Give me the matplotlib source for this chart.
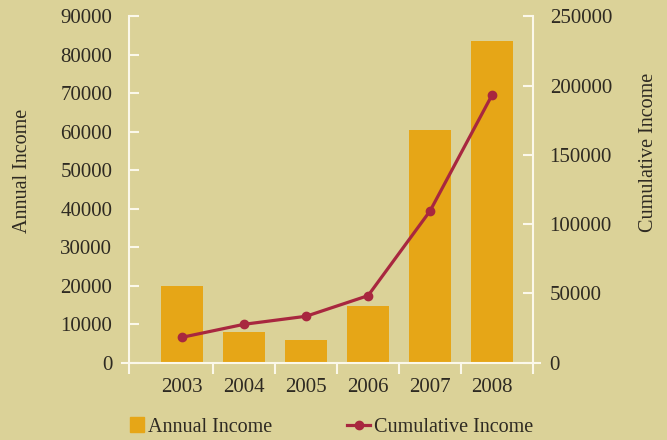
import matplotlib
matplotlib.use("Agg")
import matplotlib.pyplot as plt
from matplotlib.patches import Rectangle
from matplotlib.legend_handler import HandlerPatch

years = ["2003", "2004", "2005", "2006", "2007", "2008"]
annual_income = [20000, 8000, 5900, 14700, 60500, 83600]
cumulative_income = [18200, 27600, 33400, 48300, 109500, 193300]
left_ticks = [0, 10000, 20000, 30000, 40000, 50000, 60000, 70000, 80000, 90000]
right_ticks = [0, 50000, 100000, 150000, 200000, 250000]

BG = "#dbd298"
BAR = "#e6a617"
LINE = "#a8273f"
TXT = "#2e2a22"
AX = "#fbf8ea"

plt.rcParams["font.family"] = ["Liberation Serif", "DejaVu Serif"]
fs = 14.5
tfs = 15

fig = plt.figure(figsize=(6.67, 4.40), dpi=100, facecolor=BG)
ax = fig.add_axes([129 / 667, (440 - 362.5) / 440, 404 / 667, 346 / 440])
ax.set_facecolor(BG)
ax2 = ax.twinx()

x = list(range(len(years)))
ax.bar(x, annual_income, width=42 / 62, color=BAR, zorder=2, label="Annual Income")
ln, = ax2.plot(x, cumulative_income, color=LINE, lw=2.3, marker="o", ms=6,
               zorder=3, label="Cumulative Income")

ax.set_xlim(-0.855, 5.66)
ax.set_ylim(0, 90000)
ax2.set_ylim(0, 250000)

for a in (ax, ax2):
    for s in a.spines.values():
        s.set_visible(False)
ax.spines["left"].set_visible(True)
ax.spines["left"].set_color(AX)
ax.spines["left"].set_linewidth(1.5)
ax2.spines["right"].set_visible(True)
ax2.spines["right"].set_color(AX)
ax2.spines["right"].set_linewidth(1.5)
ax.spines["bottom"].set_visible(True)
ax.spines["bottom"].set_color(AX)
ax.spines["bottom"].set_linewidth(1.5)
ax.spines["bottom"].set_bounds(-0.855 - 7 / 62, 5.66 + 7 / 62)

ax.set_yticks(left_ticks)
ax.set_yticklabels([str(v) for v in left_ticks])
ax.tick_params(axis="y", direction="in", length=7, width=1.5, color=AX,
               labelsize=tfs, labelcolor=TXT, pad=12)
ax2.set_yticks(right_ticks)
ax2.set_yticklabels([str(v) for v in right_ticks])
ax2.tick_params(axis="y", direction="in", length=7, width=1.5, color=AX,
                labelsize=tfs, labelcolor=TXT, pad=12)

ax.set_xticks([-0.855, 0.5, 1.5, 2.5, 3.5, 4.5, 5.66])
ax.set_xticklabels([])
ax.tick_params(axis="x", which="major", direction="out", length=8, width=1.5, color=AX)
ax.set_xticks(x, minor=True)
ax.set_xticklabels(years, minor=True)
ax.tick_params(axis="x", which="minor", length=0, labelsize=tfs, labelcolor=TXT, pad=11)

ax.set_ylabel("Annual Income", fontsize=fs, color=TXT)
ax.yaxis.set_label_coords((32 - 129) / 404, (362.5 - 171) / 346)
ax2.set_ylabel("Cumulative Income", fontsize=fs, color=TXT)
ax2.yaxis.set_label_coords((639 - 129) / 404, (362.5 - 152) / 346)


def square(legend, orig_handle, xdescent, ydescent, width, height, fontsize):
    s = height
    return Rectangle((-xdescent + width - s, -ydescent + (height - s) / 2), s, s)


bar_handle = Rectangle((0, 0), 1, 1, color=BAR)
leg = fig.legend([bar_handle, ln], ["Annual Income", "Cumulative Income"],
                 handler_map={Rectangle: HandlerPatch(patch_func=square)},
                 loc="center left", bbox_to_anchor=(121 / 667, 1 - 427 / 440),
                 ncol=2, frameon=False, fontsize=fs, handlelength=1.15,
                 handletextpad=0.2, columnspacing=3.7, borderaxespad=0,
                 borderpad=0)
for t in leg.get_texts():
    t.set_color(TXT)

fig.savefig("out.png", dpi=100, facecolor=BG)
